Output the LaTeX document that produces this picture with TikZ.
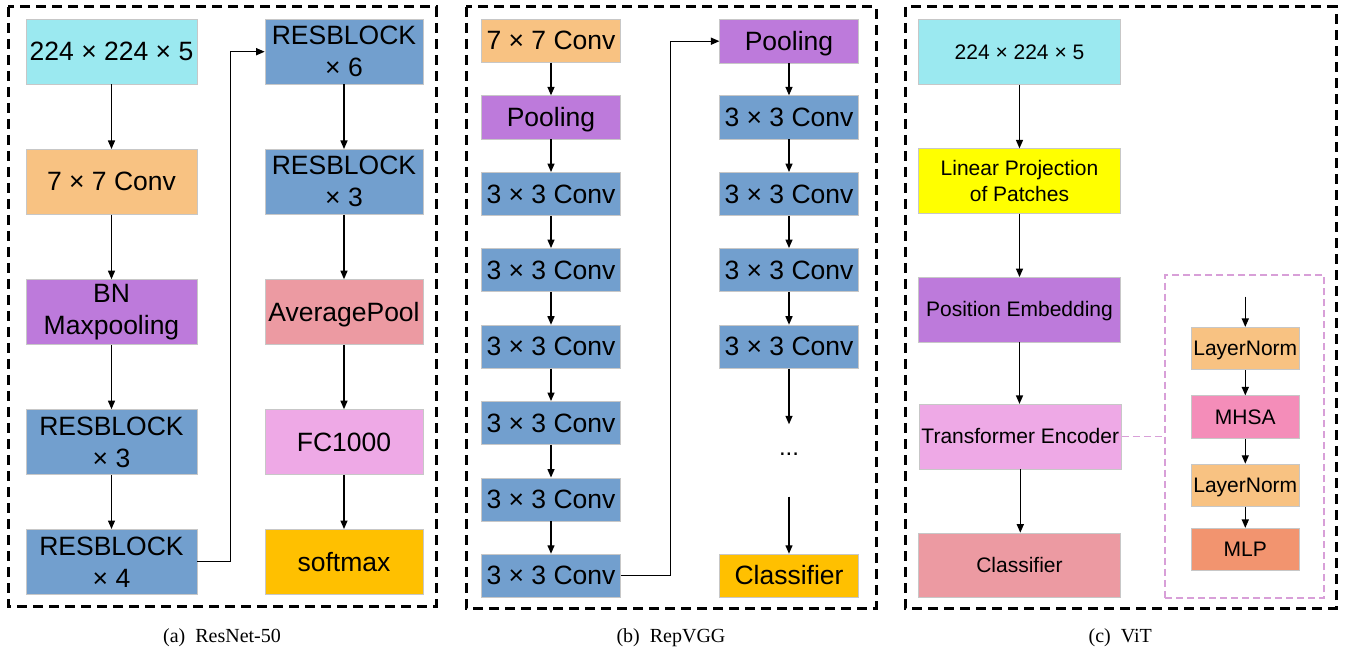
\documentclass[tikz,border=0pt]{standalone}
\usepackage{fontspec}
\setmainfont{Liberation Sans}
\newfontfamily\capfont{Liberation Serif}
\usetikzlibrary{arrows.meta}
\definecolor{cCyan}{HTML}{9BE9F0}
\definecolor{cOrange}{HTML}{F8C282}
\definecolor{cPurple}{HTML}{BD7ADB}
\definecolor{cBlue}{HTML}{729FCE}
\definecolor{cRose}{HTML}{EC9AA2}
\definecolor{cLightPink}{HTML}{EEA9E6}
\definecolor{cGold}{HTML}{FFC000}
\definecolor{cYellow}{HTML}{FFFF00}
\definecolor{cMHSA}{HTML}{F48DB9}
\definecolor{cMLP}{HTML}{F2946F}
\definecolor{cPlum}{HTML}{D89FD8}
\begin{document}
\begin{tikzpicture}[x=1pt,y=-1pt,
  box/.style={draw=black!22, line width=0.6pt, inner sep=0pt, align=center,
    font=\fontsize{26.5}{32}\selectfont},
  oneL/.style={text height=24pt, text depth=5.6pt},
  oneS/.style={text height=19pt, text depth=4.45pt},
  boxa/.style={box, minimum width=171pt, minimum height=65pt},
  boxar/.style={box, minimum width=158pt, minimum height=65pt},
  boxb/.style={box, oneL, minimum width=138.5pt, minimum height=43.3pt},
  boxc/.style={box, font=\fontsize{21}{25.7}\selectfont, minimum width=202.4pt, minimum height=64.6pt},
  boxci/.style={box, oneS, font=\fontsize{21}{25.7}\selectfont, minimum width=107.3pt, minimum height=42.5pt},
  arr/.style={-{Triangle[length=8.5pt,width=7pt]}, line width=1.35pt, black},
  panel/.style={draw=black, line width=3pt, dash pattern=on 10pt off 6pt},
  plumframe/.style={draw=cPlum, line width=1.9pt, dash pattern=on 7pt off 4pt, inner sep=0pt},
  plumline/.style={draw=cPlum, line width=1.9pt, dash pattern=on 7pt off 4pt},
  caption/.style={font=\capfont\fontsize{20}{24}\selectfont, anchor=base}]
\useasboundingbox (0,0) rectangle (1345,652);

% ---------------- panel frames ----------------
\draw[panel] (8,7) rectangle (436,606);
\draw[panel] (466,7) rectangle (876,608);
\draw[panel] (905,7) rectangle (1336,608);

% ---------------- (a) ResNet-50 ----------------
\node[boxa, oneL, fill=cCyan]   (a1) at (111.5,51.7)  {224 × 224 × 5};
\node[boxa, oneL, fill=cOrange] (a2) at (111.5,181.8) {7 × 7 Conv};
\node[boxa, fill=cPurple] (a3) at (111.5,312)   {BN\\Maxpooling};
\node[boxa, fill=cBlue]   (a4) at (111.5,442)   {RESBLOCK\\× 3};
\node[boxa, fill=cBlue]   (a5) at (111.5,561.8) {RESBLOCK\\× 4};
\node[boxar, fill=cBlue]      (a6) at (344,51.7)  {RESBLOCK\\× 6};
\node[boxar, fill=cBlue]      (a7) at (344,181.8) {RESBLOCK\\× 3};
\node[boxar, oneL, fill=cRose]      (a8) at (344,312)   {AveragePool};
\node[boxar, oneL, fill=cLightPink] (a9) at (344,442)   {FC1000};
\node[boxar, oneL, fill=cGold]      (a10) at (344,561.8) {softmax};
\draw[arr] (a1) -- (a2);
\draw[arr] (a2) -- (a3);
\draw[arr] (a3) -- (a4);
\draw[arr] (a4) -- (a5);
\draw[arr] (a5.east) -- ++(33.3,0) |- (a6.west);
\draw[arr] (a6) -- (a7);
\draw[arr] (a7) -- (a8);
\draw[arr] (a8) -- (a9);
\draw[arr] (a9) -- (a10);

% ---------------- (b) RepVGG ----------------
\node[boxb, fill=cOrange] (b1) at (551,40.8)  {7 × 7 Conv};
\node[boxb, fill=cPurple] (b2) at (551,117.3) {Pooling};
\node[boxb, fill=cBlue]   (b3) at (551,194)   {3 × 3 Conv};
\node[boxb, fill=cBlue]   (b4) at (551,270)   {3 × 3 Conv};
\node[boxb, fill=cBlue]   (b5) at (551,346.7) {3 × 3 Conv};
\node[boxb, fill=cBlue]   (b6) at (551,423)   {3 × 3 Conv};
\node[boxb, fill=cBlue]   (b7) at (551,499.5) {3 × 3 Conv};
\node[boxb, fill=cBlue]   (b8) at (551,575.7) {3 × 3 Conv};
\node[boxb, fill=cPurple] (r1) at (789,41.2)  {Pooling};
\node[boxb, fill=cBlue]   (r2) at (789,117.3) {3 × 3 Conv};
\node[boxb, fill=cBlue]   (r3) at (789,194)   {3 × 3 Conv};
\node[boxb, fill=cBlue]   (r4) at (789,270)   {3 × 3 Conv};
\node[boxb, fill=cBlue]   (r5) at (789,346.7) {3 × 3 Conv};
\node[boxb, fill=cGold]   (r6) at (789,575.7) {Classifier};
\node[font=\fontsize{24}{28}\selectfont, inner sep=0pt, anchor=base] (dots) at (789,456) {...};
\coordinate (dtop) at (789,424.3);
\coordinate (dbot) at (789,496.7);
\draw[arr] (b1) -- (b2);
\draw[arr] (b2) -- (b3);
\draw[arr] (b3) -- (b4);
\draw[arr] (b4) -- (b5);
\draw[arr] (b5) -- (b6);
\draw[arr] (b6) -- (b7);
\draw[arr] (b7) -- (b8);
\draw[arr] (b8.east) -- ++(50,0) |- (r1.west);
\draw[arr] (r1) -- (r2);
\draw[arr] (r2) -- (r3);
\draw[arr] (r3) -- (r4);
\draw[arr] (r4) -- (r5);
\draw[arr] (r5) -- (dtop);
\draw[arr] (dbot) -- (r6);

% ---------------- (c) ViT ----------------
\node[boxc, oneS, fill=cCyan]      (c1) at (1019.5,52)    {224 × 224 × 5};
\node[boxc, fill=cYellow]          (c2) at (1019.5,181)   {Linear Projection\\of Patches};
\node[boxc, oneS, fill=cPurple]    (c3) at (1019.5,309.7) {Position Embedding};
\node[boxc, oneS, fill=cLightPink] (c4) at (1020.3,436.5) {Transformer Encoder};
\node[boxc, oneS, fill=cRose]      (c5) at (1019.5,565.3) {Classifier};
\draw[arr] (c1) -- (c2);
\draw[arr] (c2) -- (c3);
\draw[arr] (c3.south) -- (c4.north -| c3.south);
\draw[arr] (c4.south) -- (c5.north -| c4.south);

\node[plumframe, minimum width=159pt, minimum height=323.3pt] (enc) at (1244.5,436.7) {};
\node[boxci, fill=cOrange] (e1) at (1245.3,348.5) {LayerNorm};
\node[boxci, fill=cMHSA]   (e2) at (1245.3,417)   {MHSA};
\node[boxci, fill=cOrange] (e3) at (1245.3,485.3) {LayerNorm};
\node[boxci, fill=cMLP]    (e4) at (1245.3,549.5) {MLP};
\coordinate (ein) at (1245.3,296.7);
\draw[arr] (ein) -- (e1);
\draw[arr] (e1) -- (e2);
\draw[arr] (e2) -- (e3);
\draw[arr] (e3) -- (e4);
\draw[plumline] (c4.east) -- (c4.east -| enc.west);

% ---------------- captions ----------------
\node[caption] (capa) at (222,642.7)  {(a)\enspace ResNet-50};
\node[caption] (capb) at (671,642)    {(b)\enspace RepVGG};
\node[caption] (capc) at (1120.3,642.7) {(c)\enspace ViT};
\end{tikzpicture}
\end{document}
